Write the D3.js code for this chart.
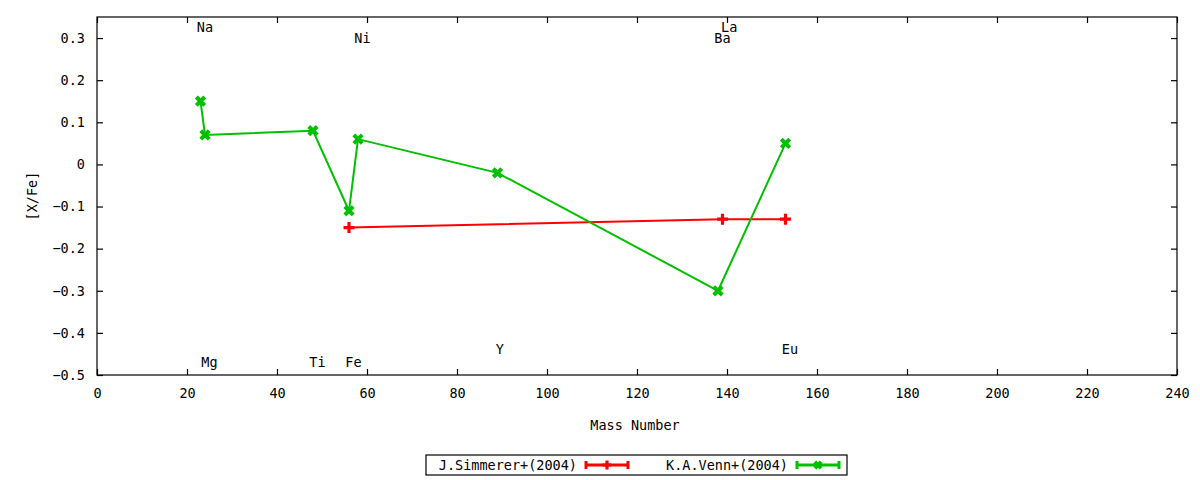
<!DOCTYPE html>
<html>
<head>
<meta charset="utf-8">
<script src="https://d3js.org/d3.v7.min.js"></script>
<style>
  body { margin: 0; background: #fff; }
  text { font-family: "DejaVu Sans Mono", monospace; font-size: 13.5px; fill: #000; }
</style>
</head>
<body>
<svg id="chart" width="1200" height="480"></svg>
<script>
  // J.Simmerer+(2004)
  var simMass = [56, 139, 153]
  var simVal = [-0.15, -0.13, -0.13]
  // K.A.Venn+(2004)
  var vennMass = [23, 24, 48, 56, 58, 89, 138, 153]
  var vennVal = [0.15, 0.07, 0.08, -0.11, 0.06, -0.02, -0.30, 0.05]
  // element labels (placed in data coords)
  var labNames = ['Na', 'Mg', 'Ti', 'Fe', 'Ni', 'Y', 'Ba', 'La', 'Eu']
  var labX = [24, 25, 49, 57, 59, 89.5, 139, 140.5, 154]
  var labY = [0.325, -0.47, -0.47, -0.47, 0.30, -0.44, 0.30, 0.325, -0.44]
  var xTicks = d3.range(0, 241, 20)
  var yTicks = [-0.5, -0.4, -0.3, -0.2, -0.1, 0, 0.1, 0.2, 0.3]

  var svg = d3.select('#chart')
  var pLeft = 97, pRight = 1177, pTop = 17, pBottom = 375

  var x = d3.scaleLinear().domain([0, 240]).range([pLeft, pRight])
  var y = d3.scaleLinear().domain([-0.5, 0.35]).range([pBottom, pTop])

  // frame
  svg.append('rect').attr('x', pLeft).attr('y', pTop)
      .attr('width', pRight - pLeft).attr('height', pBottom - pTop)
      .attr('fill', 'none').attr('stroke', '#000').attr('stroke-width', 1.2)

  // axes (ticks inward, mirrored)
  var yFmt = function (d) { return Math.abs(d) < 1e-9 ? '0' : d3.format('.1f')(d) }
  svg.append('g').attr('transform', 'translate(0,' + pBottom + ')')
      .call(d3.axisBottom(x).tickValues(xTicks).tickSize(-6).tickPadding(13).tickFormat(d3.format('d')))
  svg.append('g').attr('transform', 'translate(0,' + pTop + ')')
      .call(d3.axisTop(x).tickValues(xTicks).tickSize(-6).tickFormat(''))
  svg.append('g').attr('transform', 'translate(' + pLeft + ',0)')
      .call(d3.axisLeft(y).tickValues(yTicks).tickSize(-6).tickPadding(12).tickFormat(yFmt))
  svg.append('g').attr('transform', 'translate(' + pRight + ',0)')
      .call(d3.axisRight(y).tickValues(yTicks).tickSize(-6).tickFormat(''))
  svg.selectAll('.domain').remove()
  svg.selectAll('.tick line').attr('stroke', '#000').attr('stroke-width', 1.2)
  svg.selectAll('.tick text').style('font-family', '"DejaVu Sans Mono", monospace').style('font-size', '13.5px')

  // axis titles
  svg.append('text').attr('x', 635).attr('y', 430).attr('text-anchor', 'middle').text('Mass Number')
  svg.append('text').attr('transform', 'translate(37,196) rotate(-90)')
      .attr('text-anchor', 'middle').text('[X/Fe]')

  // element labels
  svg.selectAll('.elab').data(labNames).enter().append('text')
      .attr('class', 'elab')
      .attr('x', function (d, i) { return x(labX[i]) })
      .attr('y', function (d, i) { return y(labY[i]) })
      .attr('dy', '0.35em').attr('text-anchor', 'middle')
      .text(function (d) { return d })

  var line = d3.line().x(function (d) { return x(d[0]) }).y(function (d) { return y(d[1]) })

  function plusPath(cx, cy, s) {
    return 'M' + (cx - s) + ',' + cy + 'H' + (cx + s) + 'M' + cx + ',' + (cy - s) + 'V' + (cy + s)
  }
  function crossPath(cx, cy, s) {
    return 'M' + (cx - s) + ',' + (cy - s) + 'L' + (cx + s) + ',' + (cy + s) +
        'M' + (cx - s) + ',' + (cy + s) + 'L' + (cx + s) + ',' + (cy - s)
  }

  var series = [
    {name: 'J.Simmerer+(2004)', mass: simMass, val: simVal, color: '#ff0000', mark: plusPath, size: 5.5, mw: 3.2},
    {name: 'K.A.Venn+(2004)', mass: vennMass, val: vennVal, color: '#00c000', mark: crossPath, size: 4.2, mw: 4}
  ]

  series.forEach(function (s) {
    var pts = s.mass.map(function (m, i) { return [m, s.val[i]] })
    svg.append('path').attr('d', line(pts)).attr('fill', 'none')
        .attr('stroke', s.color).attr('stroke-width', 2)
    svg.selectAll(null).data(pts).enter().append('path')
        .attr('d', function (d) { return s.mark(x(d[0]), y(d[1]), s.size) })
        .attr('stroke', s.color).attr('stroke-width', s.mw).attr('fill', 'none')
  })

  // legend
  svg.append('rect').attr('x', 426).attr('y', 455).attr('width', 421).attr('height', 20)
      .attr('fill', 'none').attr('stroke', '#000').attr('stroke-width', 1.2)
  var legEnd = [577, 788]
  series.forEach(function (s, i) {
    var tx = legEnd[i], x0 = tx + 9, x1 = tx + 51, ly = 465
    svg.append('text').attr('x', tx).attr('y', ly).attr('dy', '0.35em')
        .attr('text-anchor', 'end').text(s.name)
    svg.append('line').attr('x1', x0).attr('x2', x1).attr('y1', ly).attr('y2', ly)
        .attr('stroke', s.color).attr('stroke-width', 3)
    ;[x0, x1].forEach(function (cx) {
      svg.append('line').attr('x1', cx).attr('x2', cx).attr('y1', ly - 4).attr('y2', ly + 4)
          .attr('stroke', s.color).attr('stroke-width', 3)
    })
    svg.append('path').attr('d', s.mark((x0 + x1) / 2, ly, s.size - 1))
        .attr('stroke', s.color).attr('stroke-width', s.mw).attr('fill', 'none')
  })
</script>
</body>
</html>
